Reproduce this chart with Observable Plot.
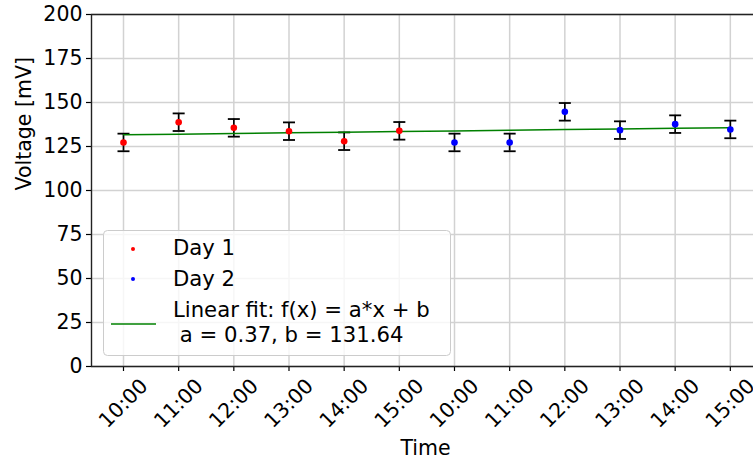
<!DOCTYPE html>
<html>
<head>
<meta charset="utf-8">
<script src="https://cdn.jsdelivr.net/npm/d3@7"></script>
<script src="https://cdn.jsdelivr.net/npm/@observablehq/plot@0.6"></script>
<style>
  html, body { margin: 0; padding: 0; background: white; overflow: hidden; }
</style>
</head>
<body>
<script>
// ---- data ----
const timeLabels = ["10:00","11:00","12:00","13:00","14:00","15:00","10:00","11:00","12:00","13:00","14:00","15:00"];
const day1Values = [127.3, 138.8, 135.6, 133.7, 128.0, 133.9];
const day2Values = [127.3, 127.3, 144.7, 134.3, 137.7, 134.7];
const errorValues = [5, 5, 5, 5, 5, 5, 5, 5, 5, 5, 5, 5];
const seriesNames = ["Day 1", "Day 2"];
const seriesColors = ["red", "blue"];
const fitA = 0.37;
const fitB = 131.64;
const yTicks = [0, 25, 50, 75, 100, 125, 150, 175, 200];

// ---- build tables ----
const idx = timeLabels.map((_, i) => i);
const points = [
  ...day1Values.map((v, i) => ({i, v, e: errorValues[i], s: 0})),
  ...day2Values.map((v, j) => ({i: j + day1Values.length, v, e: errorValues[j + day1Values.length], s: 1}))
];
const caps = points.flatMap(d => [{i: d.i, y: d.v - d.e}, {i: d.i, y: d.v + d.e}]);
const fitLine = idx.map(i => ({i, y: fitA * i + fitB}));

const capSymbol = {
  draw(context, size) {
    const r = Math.sqrt(size / Math.PI);
    context.moveTo(-r, 0);
    context.lineTo(r, 0);
  }
};

const font = "DejaVu Sans";
const fs = 20.5;
const legendFs = 21.2;

const chart = Plot.plot({
  width: 753,
  height: 461,
  marginLeft: 91,
  marginRight: 0,
  marginTop: 14,
  marginBottom: 95,
  x: {type: "linear", domain: [-0.58, 11.42]},
  y: {domain: [0, 200]},
  style: {fontFamily: font, fontSize: fs + "px", color: "black", background: "white", overflow: "visible"},
  marks: [
    Plot.gridX(idx, {stroke: "#d2d2d2", strokeOpacity: 1, strokeWidth: 1.5}),
    Plot.gridY(yTicks, {stroke: "#d2d2d2", strokeOpacity: 1, strokeWidth: 1.5}),
    Plot.axisY(yTicks, {tickSize: 5, tickPadding: 4, label: null, fontSize: fs, strokeWidth: 1.2}),
    Plot.axisX(idx, {tickSize: 5, tickFormat: () => "", label: null, strokeWidth: 1.2}),
    Plot.text(idx, {x: d => d, text: d => timeLabels[d], frameAnchor: "bottom", dy: 37, rotate: -45,
      textAnchor: "middle", lineAnchor: "middle", fontSize: fs, fill: "black"}),
    Plot.ruleX(points, {x: "i", y1: d => d.v - d.e, y2: d => d.v + d.e, stroke: "black", strokeWidth: 1.7}),
    Plot.dot(caps, {x: "i", y: "y", symbol: capSymbol, r: 6, fill: "none", stroke: "black", strokeWidth: 1.8}),
    Plot.line(fitLine, {x: "i", y: "y", stroke: "green", strokeWidth: 1.5}),
    Plot.dot(points, {x: "i", y: "v", r: 3.3, fill: d => seriesColors[d.s], stroke: "none"}),
    Plot.ruleX([-0.58], {stroke: "#222", strokeWidth: 1.4}),
    Plot.ruleY([0], {stroke: "#222", strokeWidth: 1.4}),
    Plot.ruleY([200], {stroke: "#222", strokeWidth: 1.4}),
    Plot.text(["Time"], {frameAnchor: "bottom", dx: 3, dy: 82, fontSize: fs, fill: "black", lineAnchor: "middle"}),
    Plot.text(["Voltage [mV]"], {frameAnchor: "left", dx: -67, rotate: -90, fontSize: fs, fill: "black", lineAnchor: "middle"})
  ]
});

document.body.appendChild(chart);

// ---- legend (inside the axes, lower left) ----
const svg = d3.select(chart);
const lg = svg.append("g").attr("font-family", font).attr("font-size", legendFs).attr("fill", "black")
  .attr("text-anchor", "start").style("text-anchor", "start");
lg.append("rect")
  .attr("x", 103.5).attr("y", 230.5).attr("width", 347).attr("height", 125).attr("rx", 4)
  .attr("fill", "white").attr("fill-opacity", 0.8).attr("stroke", "#cccccc").attr("stroke-width", 1);
const rows = [{y: 249, base: 255}, {y: 279, base: 286}];
seriesNames.forEach((name, k) => {
  lg.append("circle").attr("cx", 133).attr("cy", rows[k].y).attr("r", 2).attr("fill", seriesColors[k]);
  lg.append("text").attr("x", 173).attr("y", rows[k].base).text(name);
});
lg.append("line").attr("x1", 111).attr("x2", 156).attr("y1", 324).attr("y2", 324)
  .attr("stroke", "green").attr("stroke-width", 1.5);
lg.append("text").attr("x", 173).attr("y", 317).text("Linear fit: f(x) = a*x + b");
lg.append("text").attr("x", 173).attr("y", 342).attr("xml:space", "preserve").style("white-space", "pre")
  .text(` a = ${fitA.toFixed(2)}, b = ${fitB.toFixed(2)}`);
</script>
</body>
</html>
